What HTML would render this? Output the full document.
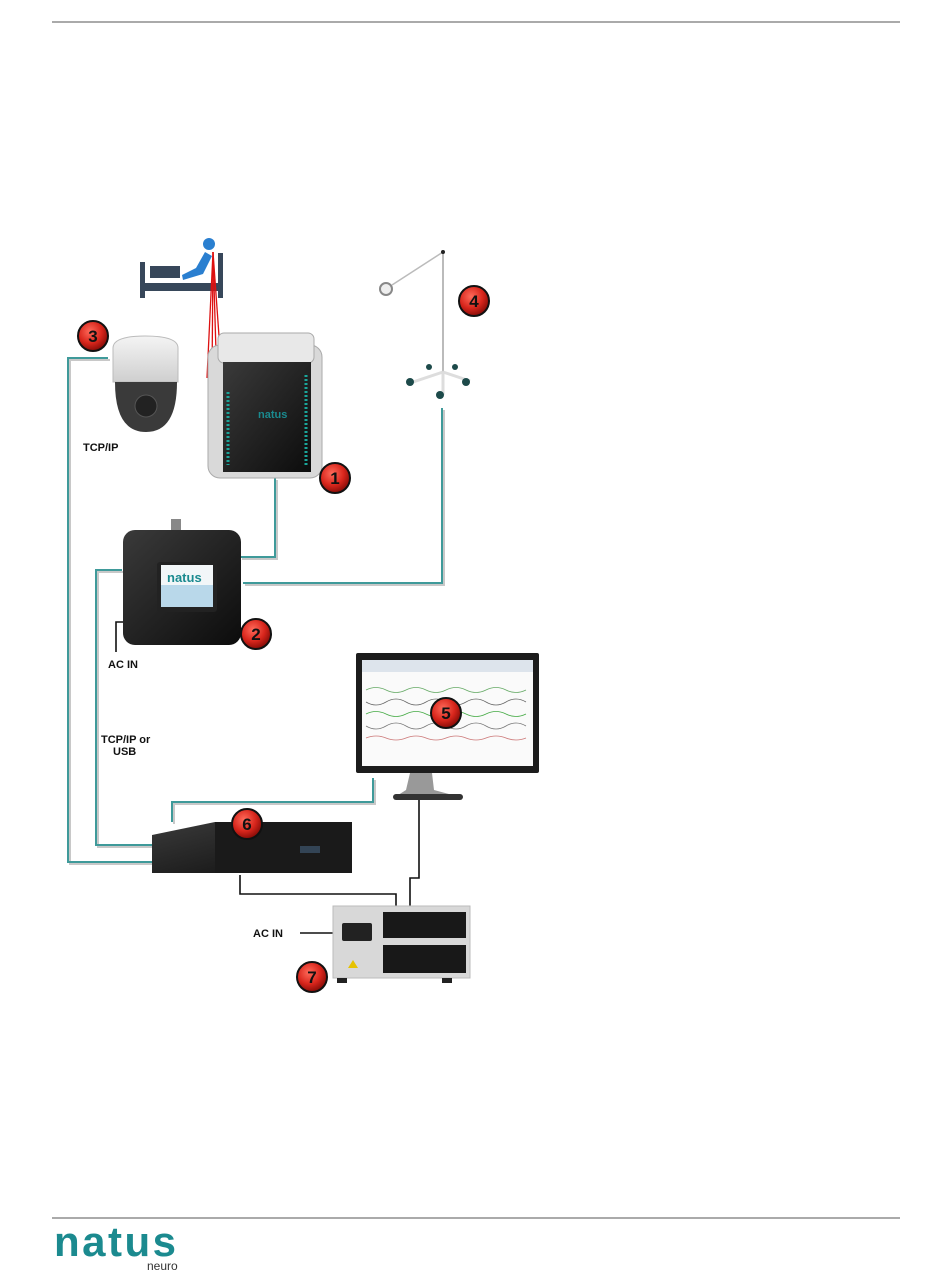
<!DOCTYPE html>
<html><head><meta charset="utf-8">
<style>
html,body{margin:0;padding:0;background:#fff;}
body{width:950px;height:1276px;position:relative;overflow:hidden;font-family:"Liberation Sans",sans-serif;}
svg{position:absolute;left:0;top:0;}
.logo{position:absolute;left:54px;top:1218px;font-size:42px;line-height:48px;font-weight:bold;color:#1b8a8f;letter-spacing:2.5px;font-family:"Liberation Sans",sans-serif;}
.neuro{position:absolute;left:147px;top:1259px;font-size:12px;line-height:14px;color:#333;}
</style></head><body>
<svg width="950" height="1276" viewBox="0 0 950 1276" xmlns="http://www.w3.org/2000/svg">
<defs>
<radialGradient id="rb" cx="40%" cy="35%" r="65%"><stop offset="0" stop-color="#ff6a5a"/><stop offset="0.6" stop-color="#d8261c"/><stop offset="1" stop-color="#8a0d08"/></radialGradient>
<linearGradient id="dome" x1="0" y1="0" x2="0" y2="1"><stop offset="0" stop-color="#f4f4f4"/><stop offset="1" stop-color="#cfcfcf"/></linearGradient>
<linearGradient id="blk" x1="0" y1="0" x2="1" y2="1"><stop offset="0" stop-color="#3a3a3a"/><stop offset="1" stop-color="#0c0c0c"/></linearGradient>
</defs>
<line x1="52" y1="22" x2="900" y2="22" stroke="#555" stroke-width="1"/>
<line x1="52" y1="1218" x2="900" y2="1218" stroke="#555" stroke-width="1"/>

<g fill="none" stroke-width="2">
<g stroke="#c8c8c8" transform="translate(2,2)">
<polyline points="108,358 68,358 68,862 152,862"/>
<polyline points="275,478 275,557 240,557"/>
<polyline points="442,408 442,583 243,583"/>
<polyline points="122,570 96,570 96,845 152,845"/>
<polyline points="373,778 373,802 172,802 172,822"/>
</g>
<g stroke="#3f9a9a">
<polyline points="108,358 68,358 68,862 152,862"/>
<polyline points="275,478 275,557 240,557"/>
<polyline points="442,408 442,583 243,583"/>
<polyline points="122,570 96,570 96,845 152,845"/>
<polyline points="373,778 373,802 172,802 172,822"/>
</g>
</g>
<g fill="none" stroke="#111" stroke-width="1.6">
<polyline points="130,622 116,622 116,652"/>
<polyline points="419,775 419,878 410,878 410,915"/>
<polyline points="240,875 240,894 396,894 396,918"/>
<line x1="300" y1="933" x2="352" y2="933"/>
</g>

<g fill="#37475a">
<rect x="140" y="262" width="5" height="36"/>
<rect x="218" y="253" width="5" height="45"/>
<rect x="145" y="283" width="73" height="8"/>
<rect x="150" y="266" width="30" height="12"/>
</g>
<g fill="#2a7fd0">
<circle cx="209" cy="244" r="6"/>
<path d="M182,275 L196,268 L205,252 L212,256 L203,274 L183,280 Z"/>
</g>
<g stroke="#dd1111" stroke-width="1.3" fill="none">
<line x1="213" y1="252" x2="207" y2="378"/>
<line x1="213" y1="252" x2="212" y2="382"/>
<line x1="213" y1="252" x2="217" y2="385"/>
<line x1="213" y1="252" x2="222" y2="378"/>
</g>

<rect x="208" y="345" width="114" height="133" rx="12" fill="#d9d9d9" stroke="#aaa"/>
<rect x="218" y="333" width="96" height="30" rx="6" fill="#e8e8e8" stroke="#aaa"/>
<rect x="223" y="362" width="88" height="110" fill="url(#blk)"/>
<g stroke="#1aa59a" stroke-width="3" stroke-dasharray="2,2">
<line x1="228" y1="392" x2="228" y2="465"/>
<line x1="306" y1="375" x2="306" y2="465"/>
</g>
<text x="258" y="418" font-size="11" font-weight="bold" fill="#1a8a8f" font-family="Liberation Sans,sans-serif">natus</text>

<path d="M113,348 Q113,336 145,336 Q178,336 178,348 L178,382 L113,382 Z" fill="url(#dome)" stroke="#bbb"/>
<path d="M115,382 L177,382 Q177,432 146,432 Q115,432 115,382 Z" fill="#3a3a3a"/>
<circle cx="146" cy="406" r="11" fill="#222" stroke="#555"/>

<g stroke="#bbb" fill="none">
<line x1="443" y1="252" x2="443" y2="388" stroke-width="2"/>
<line x1="443" y1="252" x2="392" y2="285" stroke-width="1.5"/>
<line x1="443" y1="372" x2="410" y2="383" stroke-width="3" stroke="#ddd"/>
<line x1="443" y1="372" x2="470" y2="381" stroke-width="3" stroke="#ddd"/>
<line x1="443" y1="372" x2="443" y2="395" stroke-width="3" stroke="#ddd"/>
</g>
<circle cx="443" cy="252" r="2" fill="#222"/>
<circle cx="386" cy="289" r="6" fill="#eee" stroke="#888" stroke-width="2"/>
<g fill="#1d4a4a"><circle cx="410" cy="382" r="4"/><circle cx="466" cy="382" r="4"/><circle cx="440" cy="395" r="4"/><circle cx="429" cy="367" r="3"/><circle cx="455" cy="367" r="3"/></g>

<rect x="171" y="519" width="10" height="14" fill="#888"/>
<rect x="123" y="530" width="118" height="115" rx="12" fill="url(#blk)"/>
<rect x="157" y="562" width="60" height="50" rx="3" fill="#222"/>
<rect x="161" y="565" width="52" height="42" fill="#b9d8ea"/>
<rect x="161" y="565" width="52" height="20" fill="#f2f6f8"/>
<text x="167" y="582" font-size="13" font-weight="bold" fill="#1a8a8f" font-family="Liberation Sans,sans-serif">natus</text>

<rect x="356" y="653" width="183" height="120" rx="2" fill="#1c1c1c"/>
<rect x="362" y="660" width="171" height="106" fill="#fafafa"/>
<rect x="362" y="660" width="171" height="12" fill="#dde4ec"/>
<g fill="none" stroke-width="0.8">
<path d="M366,690 q10,-5 20,0 t20,0 t20,0 t20,0 t20,0 t20,0 t20,0 t20,0" stroke="#6a6"/>
<path d="M366,702 q10,6 20,0 t20,0 t20,0 t20,0 t20,0 t20,0 t20,0 t20,0" stroke="#666"/>
<path d="M366,714 q10,-5 20,0 t20,0 t20,0 t20,0 t20,0 t20,0 t20,0 t20,0" stroke="#4a4"/>
<path d="M366,726 q10,6 20,0 t20,0 t20,0 t20,0 t20,0 t20,0 t20,0 t20,0" stroke="#777"/>
<path d="M366,738 q10,-4 20,0 t20,0 t20,0 t20,0 t20,0 t20,0 t20,0 t20,0" stroke="#c77"/>
</g>
<path d="M410,773 L432,773 L434,790 L460,797 L395,797 L406,790 Z" fill="#999"/>
<rect x="393" y="794" width="70" height="6" rx="3" fill="#333"/>

<path d="M152,835 L215,822 L352,822 L352,873 L152,873 Z" fill="url(#blk)"/>
<rect x="215" y="822" width="137" height="51" fill="#1a1a1a"/>
<rect x="300" y="846" width="20" height="7" fill="#345"/>

<rect x="333" y="906" width="137" height="72" fill="#d8d8d8" stroke="#bbb"/>
<rect x="383" y="912" width="83" height="26" fill="#181818"/>
<rect x="383" y="945" width="83" height="28" fill="#181818"/>
<rect x="342" y="923" width="30" height="18" rx="2" fill="#222"/>
<rect x="337" y="978" width="10" height="5" fill="#222"/><rect x="442" y="978" width="10" height="5" fill="#222"/>
<path d="M348,968 l5,-8 l5,8 z" fill="#e6c200"/>

<g font-family="Liberation Sans,sans-serif" font-weight="bold" font-size="11" fill="#111">
<text x="83" y="451">TCP/IP</text>
<text x="108" y="668">AC IN</text>
<text x="101" y="743">TCP/IP or</text>
<text x="113" y="755">USB</text>
<text x="253" y="937">AC IN</text>
</g>

<g font-family="Liberation Sans,sans-serif" font-weight="bold" font-size="17" text-anchor="middle">
<g><circle cx="335" cy="478" r="15" fill="url(#rb)" stroke="#111" stroke-width="2"/><text x="335" y="484" fill="#111">1</text></g>
<g><circle cx="256" cy="634" r="15" fill="url(#rb)" stroke="#111" stroke-width="2"/><text x="256" y="640" fill="#111">2</text></g>
<g><circle cx="93" cy="336" r="15" fill="url(#rb)" stroke="#111" stroke-width="2"/><text x="93" y="342" fill="#111">3</text></g>
<g><circle cx="474" cy="301" r="15" fill="url(#rb)" stroke="#111" stroke-width="2"/><text x="474" y="307" fill="#111">4</text></g>
<g><circle cx="446" cy="713" r="15" fill="url(#rb)" stroke="#111" stroke-width="2"/><text x="446" y="719" fill="#111">5</text></g>
<g><circle cx="247" cy="824" r="15" fill="url(#rb)" stroke="#111" stroke-width="2"/><text x="247" y="830" fill="#111">6</text></g>
<g><circle cx="312" cy="977" r="15" fill="url(#rb)" stroke="#111" stroke-width="2"/><text x="312" y="983" fill="#111">7</text></g>
</g>
</svg>
<div class="logo">natus</div>
<div class="neuro">neuro</div>
</body></html>
